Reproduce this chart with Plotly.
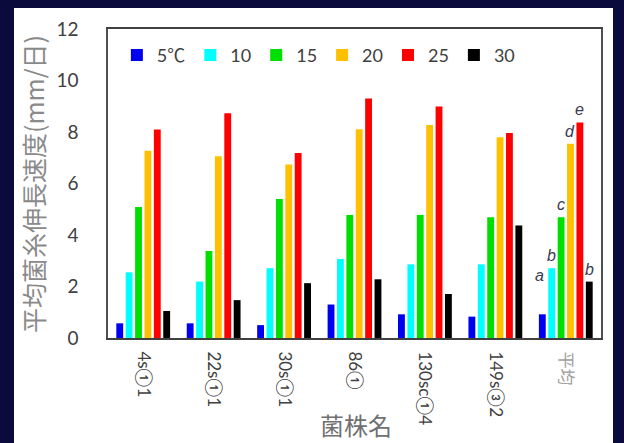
import plotly.graph_objects as go

# ---- data ----
strains = ["4s①1", "22s①1", "30s①1", "86①", "130sc①4", "149s③2", "平均"]
temps = ["5℃", "10", "15", "20", "25", "30"]
v5 = [0.57, 0.57, 0.50, 1.30, 0.92, 0.83, 0.92]
v10 = [2.55, 2.19, 2.71, 3.07, 2.86, 2.86, 2.71]
v15 = [5.09, 3.38, 5.40, 4.78, 4.78, 4.69, 4.69]
v20 = [7.27, 7.06, 6.74, 8.11, 8.27, 7.80, 7.54]
v25 = [8.10, 8.73, 7.18, 9.30, 8.99, 7.96, 8.37]
v30 = [1.05, 1.47, 2.13, 2.28, 1.71, 4.37, 2.19]
sig_letters = ["a", "b", "c", "d", "e", "b"]
yticks = [0, 2, 4, 6, 8, 10, 12]

series = [v5, v10, v15, v20, v25, v30]
colors = ["#0000f0", "#00ffff", "#00e000", "#ffc000", "#ff0000", "#000000"]

NAVY = "#0a0a3c"
W, H = 624, 443
ML, MR, MT, MB = 108, 23, 29, 105
PW, PH = W - ML - MR, H - MT - MB
BARGAP = 0.2

fig = go.Figure()
for name, vals, col in zip(temps, series, colors):
    fig.add_trace(go.Bar(x=strains, y=vals, name=name, marker_color=col,
                         marker_line_width=0))

# tick labels (平均 lighter)
ticktext = [s if s != "平均" else "<span style='color:#a0a0a0'>平均</span>" for s in strains]

def px_x(px):
    return (px - ML) / PW

def px_y(py):
    return (H - MB - py) / PH

annotations = []
# significance letters above the 平均 bars
n = len(temps)
for i, (letter, vals) in enumerate(zip(sig_letters, series)):
    off = (i - (n - 1) / 2) * (1 - BARGAP) / n
    annotations.append(dict(
        x=len(strains) - 1 + off, y=vals[-1], xref="x", yref="y",
        text=f"<i>{letter}</i>", showarrow=False, yanchor="bottom", xanchor="center",
        yshift=(28 if i == 0 else 2), xshift=(-3 if i == 0 else 0),
        font=dict(family="Liberation Sans, Arial", size=16, color="#3a3a50")))

# axis titles
annotations.append(dict(x=px_x(356), y=px_y(424), xref="paper", yref="paper",
                        xanchor="center", yanchor="middle",
                        text="菌株名", showarrow=False,
                        font=dict(family="Noto Sans CJK JP", size=24, color="#707070")))
annotations.append(dict(x=px_x(33), y=px_y(184), xref="paper", yref="paper",
                        xanchor="center", yanchor="middle",
                        text="平均菌糸伸長速度(mm/日)", showarrow=False, textangle=-90,
                        font=dict(family="Noto Sans CJK JP", size=25, color="#8a8a8a")))

# navy frame around white panel
shapes = []
frame = [(0, 0, 14, H), (613, 0, W, H), (0, 0, W, 8)]
for x0, y0, x1, y1 in frame:
    shapes.append(dict(type="rect", xref="paper", yref="paper",
                       x0=px_x(x0), x1=px_x(x1), y0=px_y(y1), y1=px_y(y0),
                       fillcolor=NAVY, line_width=0, layer="above"))

fig.update_layout(
    width=W, height=H,
    margin=dict(l=ML, r=MR, t=MT, b=MB, autoexpand=False),
    paper_bgcolor="white", plot_bgcolor="white",
    barmode="group", bargap=BARGAP, bargroupgap=0.27,
    showlegend=True,
    legend=dict(orientation="h", x=0.018, y=0.975, xanchor="left", yanchor="top",
                bgcolor="rgba(0,0,0,0)", font=dict(family="Lato, Noto Sans CJK JP", size=18, color="#404040"),
                itemwidth=30, tracegroupgap=0),
    annotations=annotations, shapes=shapes,
    font=dict(family="Lato, Noto Sans CJK JP", color="#404040"),
)
fig.update_xaxes(tickvals=strains, ticktext=ticktext, tickangle=90,
                 showline=True, linecolor="#404040", linewidth=2, mirror=True,
                 ticks="", showgrid=False, ticklabelstandoff=8,
                 tickfont=dict(family="Lato, Noto Sans CJK JP", size=17, color="#404040"))
fig.update_yaxes(range=[0, 12], tickvals=yticks, showline=True, linecolor="#505050",
                 linewidth=1.5, mirror=True, ticks="", showgrid=False, zeroline=False,
                 ticklabelstandoff=24,
                 tickfont=dict(family="Lato", size=19, color="#404040"))

fig.write_html("out.html")
